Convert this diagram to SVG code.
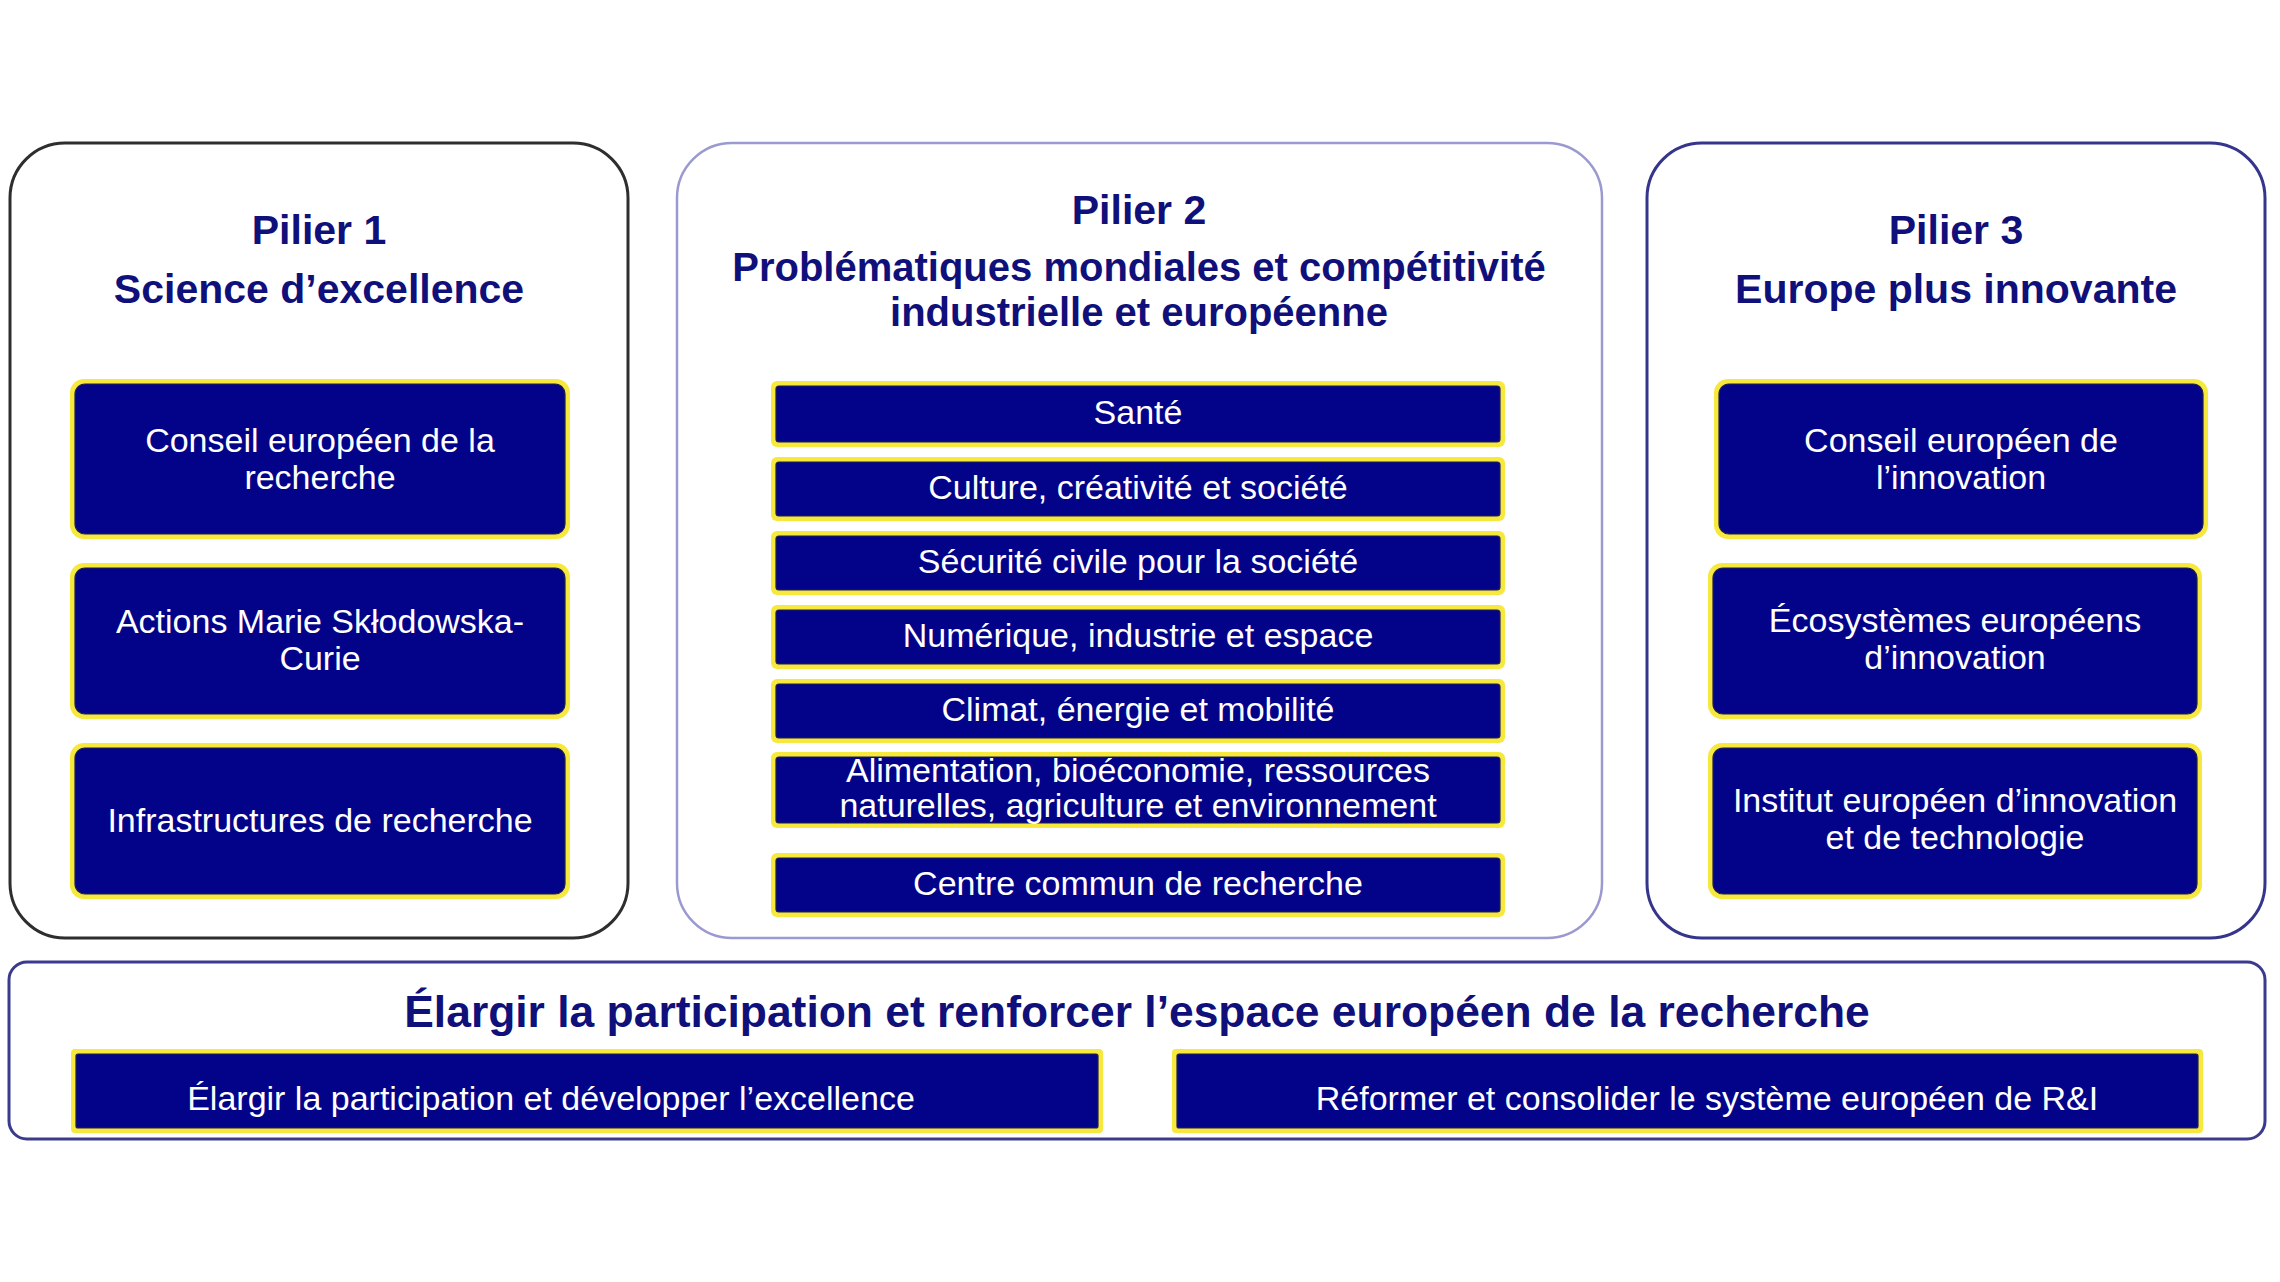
<svg xmlns="http://www.w3.org/2000/svg" width="2280" height="1282" viewBox="0 0 2280 1282">
<style>
  .bg { fill: #ffffff; }
  .pil { fill: #ffffff; stroke-width: 3; }
  .p1 { stroke: #2e2e2e; }
  .p2 { stroke: #9a9ad0; stroke-width: 2.5; }
  .p3 { stroke: #35358c; }
  .foot { fill: #ffffff; stroke: #3a3a8e; stroke-width: 3; }
  .yb { fill: #f6e83c; }
  .nb { fill: #03038a; stroke: #1e1e50; stroke-width: 1.2; }
  .ttl { font-family: "Liberation Sans", Arial, sans-serif; font-weight: bold; font-size: 41px; fill: #10107a; text-anchor: middle; }
  .sub { font-size: 40px; }
  .big { font-size: 44.4px; }
  .lbl { font-family: "Liberation Sans", Arial, sans-serif; font-size: 34px; fill: #ffffff; text-anchor: middle; }
</style>
<rect class="bg" x="0" y="0" width="2280" height="1282"/>

<g id="pilier1">
  <rect class="pil p1" x="10" y="143" width="618" height="795" rx="55" ry="55"/>
  <text class="ttl" x="319" y="244">Pilier 1</text>
  <text class="ttl" x="319" y="303">Science d’excellence</text>
  <g id="p1-erc">
    <rect class="yb" x="70" y="379" width="500" height="160" rx="14"/>
    <rect class="nb" x="75" y="384" width="490" height="150" rx="10"/>
    <text class="lbl" x="320" y="452">Conseil européen de la</text>
    <text class="lbl" x="320" y="489">recherche</text>
  </g>
  <g id="p1-msca">
    <rect class="yb" x="70" y="563" width="500" height="156" rx="14"/>
    <rect class="nb" x="75" y="568" width="490" height="146" rx="10"/>
    <text class="lbl" x="320" y="633">Actions Marie Skłodowska-</text>
    <text class="lbl" x="320" y="670">Curie</text>
  </g>
  <g id="p1-infra">
    <rect class="yb" x="70" y="743" width="500" height="156" rx="14"/>
    <rect class="nb" x="75" y="748" width="490" height="146" rx="10"/>
    <text class="lbl" x="320" y="832">Infrastructures de recherche</text>
  </g>
</g>

<g id="pilier2">
  <rect class="pil p2" x="677" y="143" width="925" height="795" rx="55" ry="55"/>
  <text class="ttl" x="1139" y="224">Pilier 2</text>
  <text class="ttl sub" x="1139" y="281">Problématiques mondiales et compétitivité</text>
  <text class="ttl sub" x="1139" y="326">industrielle et européenne</text>
  <g id="p2-sante">
    <rect class="yb" x="771" y="381" width="734" height="66" rx="6"/>
    <rect class="nb" x="776" y="386" width="724" height="56" rx="3"/>
    <text class="lbl" x="1138" y="424">Santé</text>
  </g>
  <g id="p2-culture">
    <rect class="yb" x="771" y="457" width="734" height="64" rx="6"/>
    <rect class="nb" x="776" y="462" width="724" height="54" rx="3"/>
    <text class="lbl" x="1138" y="499">Culture, créativité et société</text>
  </g>
  <g id="p2-securite">
    <rect class="yb" x="771" y="531" width="734" height="64" rx="6"/>
    <rect class="nb" x="776" y="536" width="724" height="54" rx="3"/>
    <text class="lbl" x="1138" y="573">Sécurité civile pour la société</text>
  </g>
  <g id="p2-numerique">
    <rect class="yb" x="771" y="605" width="734" height="64" rx="6"/>
    <rect class="nb" x="776" y="610" width="724" height="54" rx="3"/>
    <text class="lbl" x="1138" y="647">Numérique, industrie et espace</text>
  </g>
  <g id="p2-climat">
    <rect class="yb" x="771" y="679" width="734" height="64" rx="6"/>
    <rect class="nb" x="776" y="684" width="724" height="54" rx="3"/>
    <text class="lbl" x="1138" y="721">Climat, énergie et mobilité</text>
  </g>
  <g id="p2-alimentation">
    <rect class="yb" x="771" y="752" width="734" height="76" rx="6"/>
    <rect class="nb" x="776" y="757" width="724" height="66" rx="3"/>
    <text class="lbl" x="1138" y="782">Alimentation, bioéconomie, ressources</text>
    <text class="lbl" x="1138" y="817">naturelles, agriculture et environnement</text>
  </g>
  <g id="p2-ccr">
    <rect class="yb" x="771" y="853" width="734" height="64" rx="6"/>
    <rect class="nb" x="776" y="858" width="724" height="54" rx="3"/>
    <text class="lbl" x="1138" y="895">Centre commun de recherche</text>
  </g>
</g>

<g id="pilier3">
  <rect class="pil p3" x="1647" y="143" width="618" height="795" rx="55" ry="55"/>
  <text class="ttl" x="1956" y="244">Pilier 3</text>
  <text class="ttl" x="1956" y="303">Europe plus innovante</text>
  <g id="p3-eic">
    <rect class="yb" x="1714" y="379" width="494" height="160" rx="14"/>
    <rect class="nb" x="1719" y="384" width="484" height="150" rx="10"/>
    <text class="lbl" x="1961" y="452">Conseil européen de</text>
    <text class="lbl" x="1961" y="489">l’innovation</text>
  </g>
  <g id="p3-eie">
    <rect class="yb" x="1708" y="563" width="494" height="156" rx="14"/>
    <rect class="nb" x="1713" y="568" width="484" height="146" rx="10"/>
    <text class="lbl" x="1955" y="632">Écosystèmes européens</text>
    <text class="lbl" x="1955" y="669">d’innovation</text>
  </g>
  <g id="p3-eit">
    <rect class="yb" x="1708" y="743" width="494" height="156" rx="14"/>
    <rect class="nb" x="1713" y="748" width="484" height="146" rx="10"/>
    <text class="lbl" x="1955" y="812">Institut européen d’innovation</text>
    <text class="lbl" x="1955" y="849">et de technologie</text>
  </g>
</g>

<g id="elargir">
  <rect class="foot" x="9" y="962" width="2256" height="177" rx="18" ry="18"/>
  <text class="ttl big" x="1137" y="1027">Élargir la participation et renforcer l’espace européen de la recherche</text>
  <g id="el-participation">
    <rect class="yb" x="71" y="1049" width="1032" height="84" rx="4"/>
    <rect class="nb" x="76" y="1054" width="1022" height="74" rx="2"/>
    <text class="lbl" x="551" y="1110">Élargir la participation et développer l’excellence</text>
  </g>
  <g id="el-reformer">
    <rect class="yb" x="1172" y="1049" width="1031" height="84" rx="4"/>
    <rect class="nb" x="1177" y="1054" width="1021" height="74" rx="2"/>
    <text class="lbl" x="1707" y="1110">Réformer et consolider le système européen de R&amp;I</text>
  </g>
</g>

<g id="connectors"></g>
</svg>
